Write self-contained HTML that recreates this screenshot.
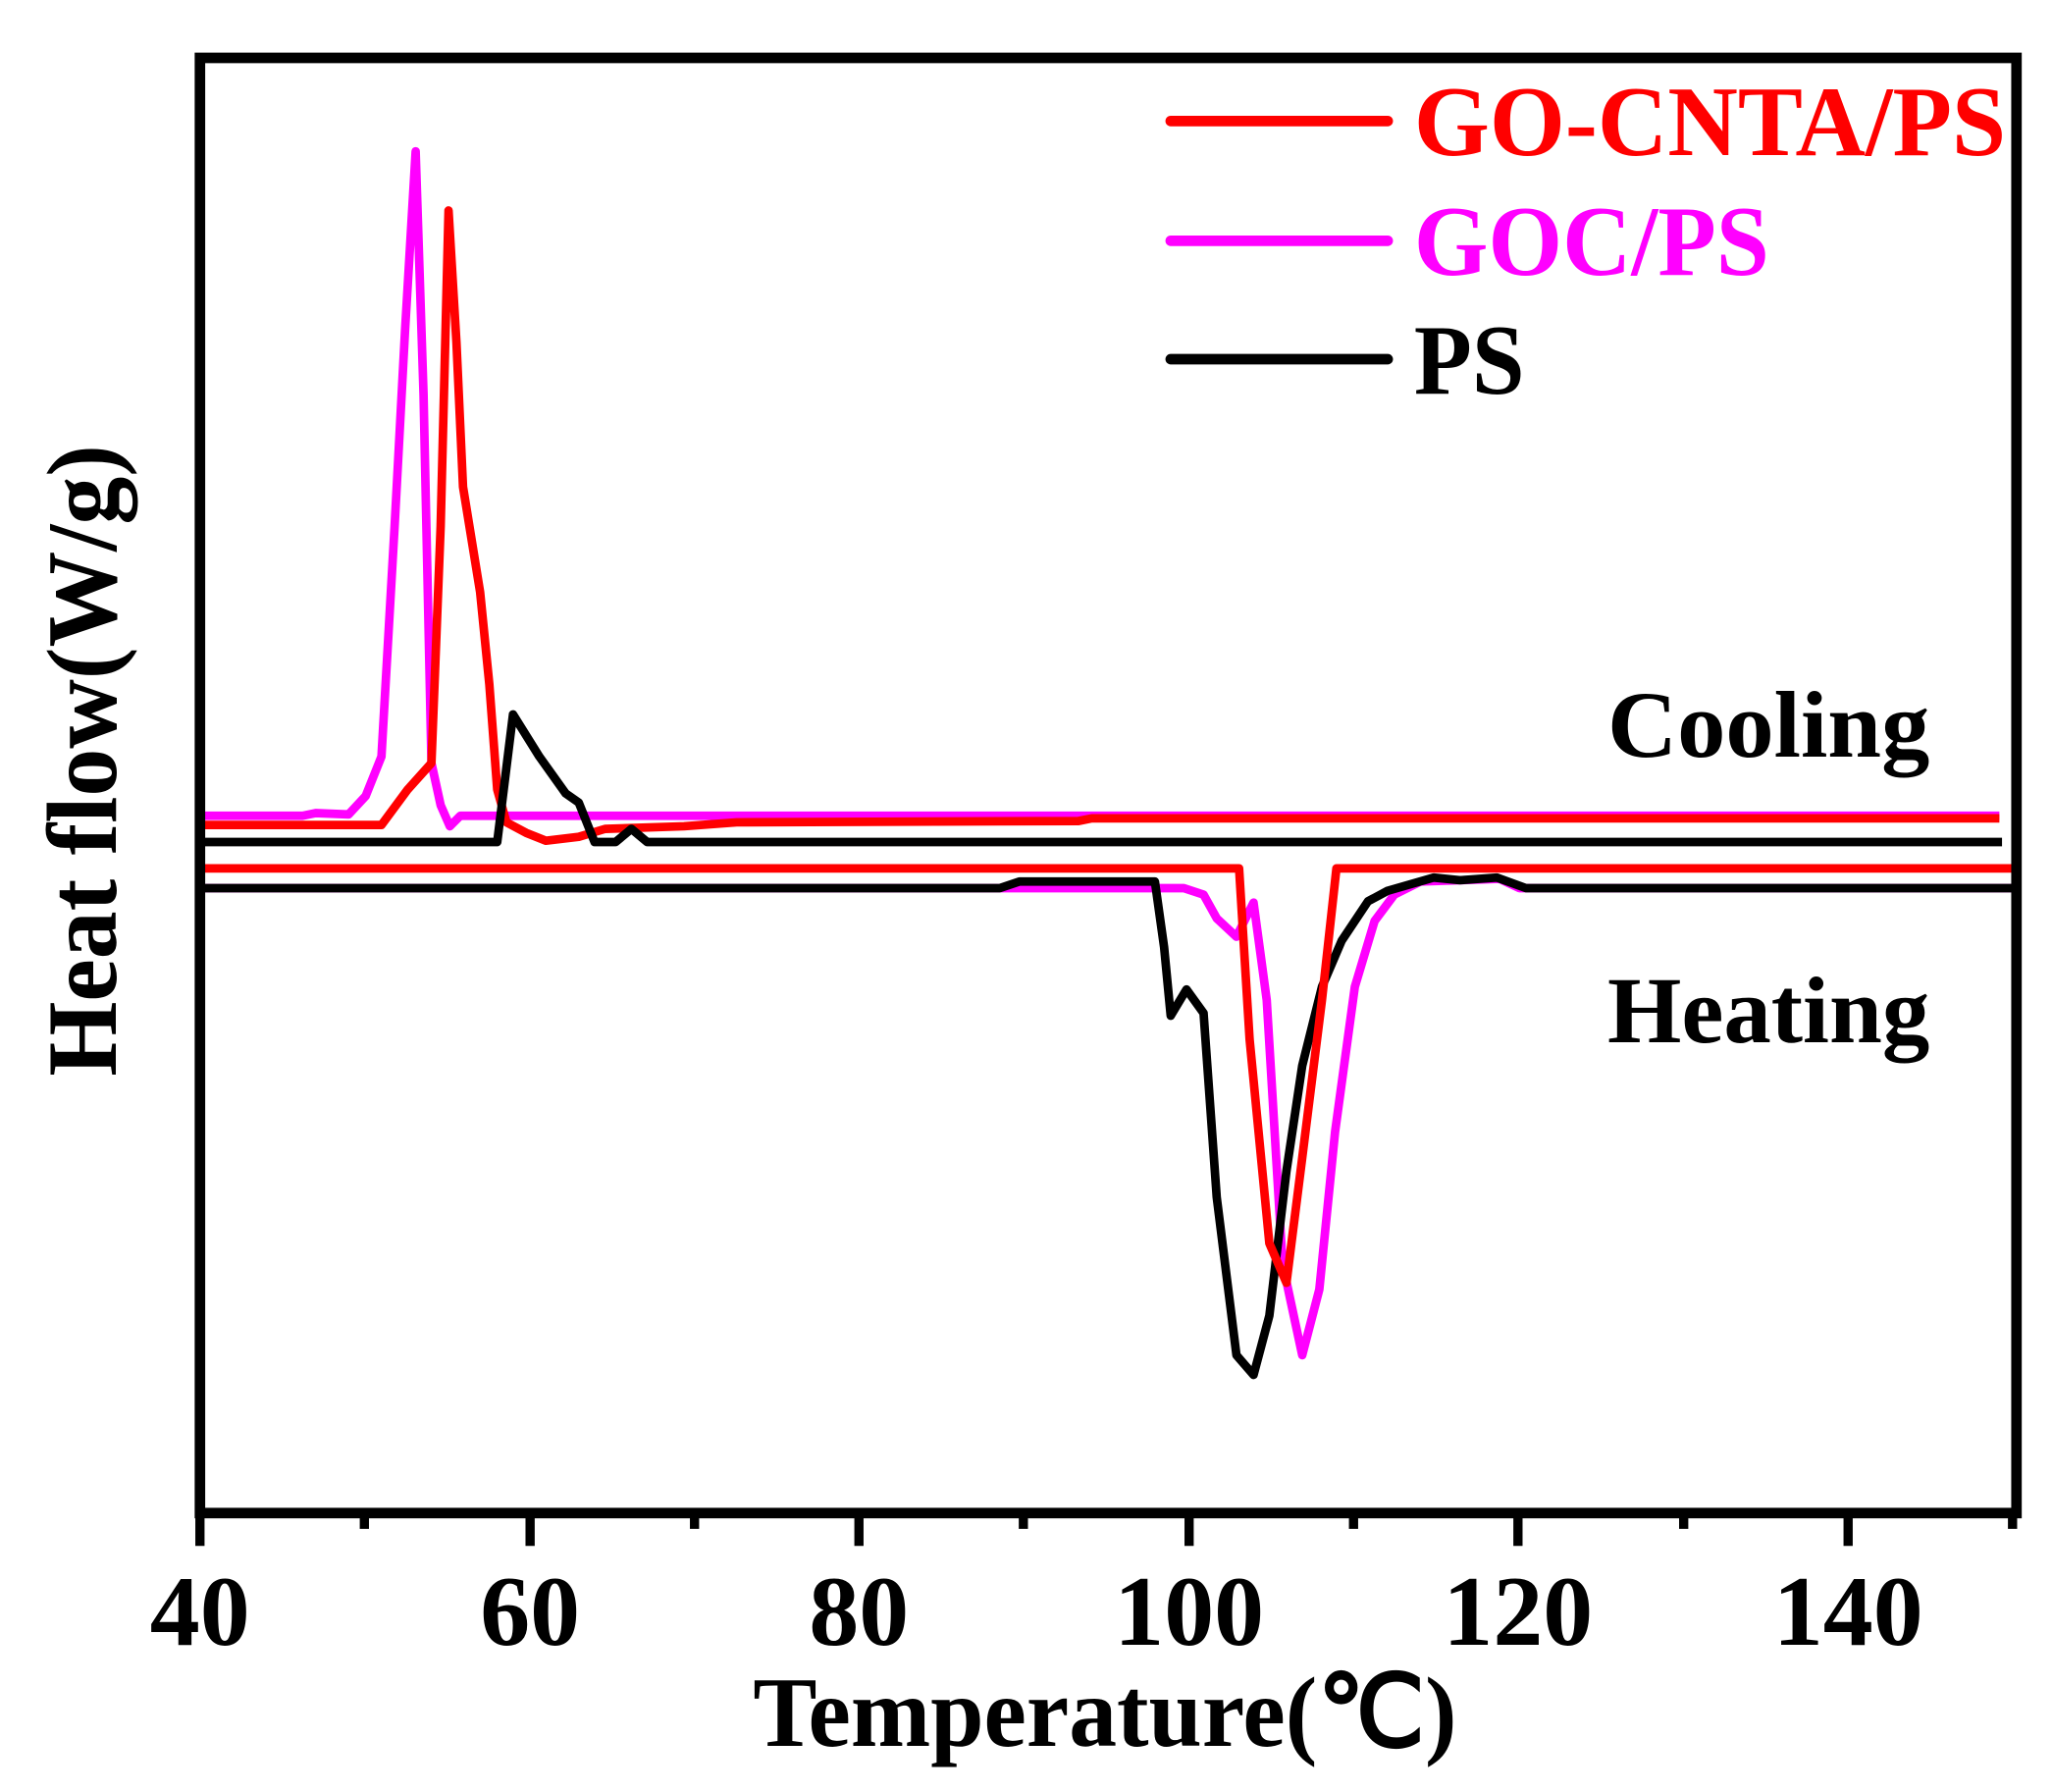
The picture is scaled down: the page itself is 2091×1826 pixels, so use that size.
<!DOCTYPE html>
<html><head><meta charset="utf-8"><style>
html,body{margin:0;padding:0;background:#fff;}
svg{display:block;}
text{font-family:"Liberation Serif",serif;font-weight:bold;}
</style></head><body>
<svg width="2091" height="1826" viewBox="0 0 1560 1362" preserveAspectRatio="none" xmlns="http://www.w3.org/2000/svg">
<rect width="1560" height="1362" fill="#fff"/>
<g fill="none" stroke-linejoin="round" stroke-width="6.5">
<polyline stroke="#ff00ff" points="152,620 230,620 240,618 265,619 278,605 290,575 300,400 308,250 316,115 322,300 328,580 335,612 342,628 350,620 1520,620"/>
<polyline stroke="#ff0000" points="152,627 290,627 310,600 328,580 335,400 341,160 347,260 352,370 365,450 372,520 378,600 385,625 400,633 415,639 440,636 460,630 520,628 560,625 820,624 830,622 1520,622"/>
<polyline stroke="#000" points="152,640 378,640 390,543 410,575 430,603 440,610 452,640 468,640 480,630 492,640 1522,640"/>
<polyline stroke="#ff00ff" points="152,675 900,675 915,680 925,698 940,712 953,686 963,760 975,960 990,1030 1003,980 1015,860 1030,750 1045,700 1060,680 1080,670 1140,668 1155,675 1530,675"/>
<polyline stroke="#000" points="152,675 760,675 775,670 878,670 885,720 890,772 902,752 915,770 925,910 940,1030 953,1045 965,1000 978,890 990,810 1005,750 1020,715 1040,685 1055,677 1090,667 1110,669 1138,667 1160,675 1530,675"/>
<polyline stroke="#ff0000" points="152,660 942,660 950,790 965,945 978,975 990,880 1005,760 1016,660 1530,660"/>
</g>
<rect x="152" y="44" width="1381" height="1106" fill="none" stroke="#000" stroke-width="8"/>
<g stroke="#000" stroke-width="7">
<line x1="152" y1="1150" x2="152" y2="1175"/>
<line x1="403" y1="1150" x2="403" y2="1175"/>
<line x1="653" y1="1150" x2="653" y2="1175"/>
<line x1="904" y1="1150" x2="904" y2="1175"/>
<line x1="1154" y1="1150" x2="1154" y2="1175"/>
<line x1="1405" y1="1150" x2="1405" y2="1175"/>
<line x1="277" y1="1150" x2="277" y2="1162"/>
<line x1="528" y1="1150" x2="528" y2="1162"/>
<line x1="778" y1="1150" x2="778" y2="1162"/>
<line x1="1029" y1="1150" x2="1029" y2="1162"/>
<line x1="1280" y1="1150" x2="1280" y2="1162"/>
<line x1="1530" y1="1150" x2="1530" y2="1162"/>
</g>
<g font-size="76" text-anchor="middle" fill="#000">
<text x="152" y="1250">40</text>
<text x="403" y="1250">60</text>
<text x="653" y="1250">80</text>
<text x="904" y="1250">100</text>
<text x="1154" y="1250">120</text>
<text x="1405" y="1250">140</text>
</g>
<text x="840" y="1327" font-size="76" text-anchor="middle" textLength="535" lengthAdjust="spacingAndGlyphs">Temperature(℃)</text>
<text transform="translate(88,578) rotate(-90)" font-size="76" text-anchor="middle" textLength="480" lengthAdjust="spacingAndGlyphs">Heat flow(W/g)</text>
<text x="1222" y="575" font-size="72" textLength="245" lengthAdjust="spacingAndGlyphs">Cooling</text>
<text x="1222" y="792" font-size="72" textLength="245" lengthAdjust="spacingAndGlyphs">Heating</text>
<g stroke-width="8" stroke-linecap="round">
<line x1="890" y1="92" x2="1055" y2="92" stroke="#ff0000"/>
<line x1="890" y1="183" x2="1055" y2="183" stroke="#ff00ff"/>
<line x1="890" y1="273" x2="1055" y2="273" stroke="#000"/>
</g>
<text x="1075" y="118" font-size="76" fill="#ff0000" textLength="450" lengthAdjust="spacingAndGlyphs">GO-CNTA/PS</text>
<text x="1075" y="209" font-size="76" fill="#ff00ff" textLength="270" lengthAdjust="spacingAndGlyphs">GOC/PS</text>
<text x="1075" y="299" font-size="76" fill="#000" textLength="84" lengthAdjust="spacingAndGlyphs">PS</text>
</svg>
</body></html>
